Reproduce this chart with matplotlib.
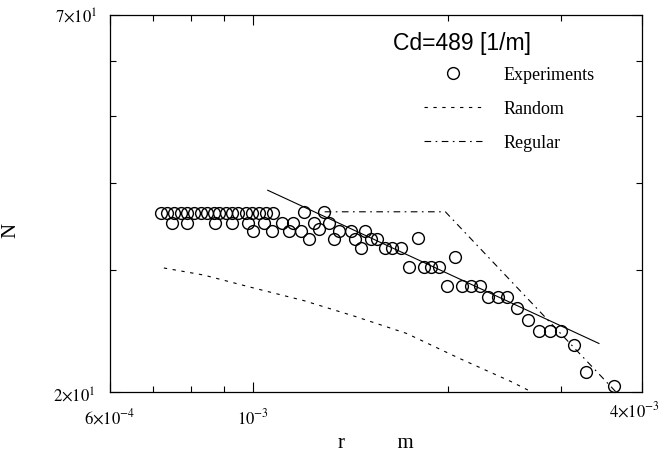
import matplotlib
matplotlib.use('Agg')
from matplotlib import pyplot as plt
from matplotlib.lines import Line2D
from matplotlib.ticker import FixedLocator, NullFormatter, FixedFormatter
from matplotlib.transforms import ScaledTranslation
import numpy as np

plt.rcParams['font.family'] = ['Liberation Serif', 'DejaVu Serif']
plt.rcParams['mathtext.fontset'] = 'stix'

# experiments: radius r [1e-3 m] and coordination number N
exp_r = [0.719, 0.735, 0.753, 0.773, 0.789, 0.809, 0.829, 0.847, 0.869, 0.884,
         0.907, 0.926, 0.946, 0.974, 0.995, 1.020, 1.045, 1.072, 1.197, 1.285,
         0.748, 0.789, 0.872, 0.926, 0.981, 1.038, 1.107, 1.151, 1.240, 1.308,
         0.998, 1.068, 1.134, 1.184, 1.262, 1.360, 1.415, 1.487,
         1.218, 1.332, 1.435, 1.524, 1.557, 1.802,
         1.466, 1.597, 1.643, 1.696,
         2.056, 1.745, 1.841, 1.887, 1.942,
         1.998, 2.107, 2.176, 2.247,
         2.312, 2.396, 2.474, 2.563, 2.666,
         2.772, 2.883, 2.998, 3.140, 3.277, 3.620]
exp_n = [36.2] * 18 + [36.4, 36.4] + [35.1] * 10 + \
        [34.1, 34.1, 34.1, 34.1, 34.4, 34.1, 34.1, 34.1] + \
        [33.2, 33.2, 33.2, 33.3, 33.3, 33.4] + \
        [32.3] * 4 + [31.3] + [30.3] * 4 + [28.4] * 4 + \
        [27.4] * 3 + [26.4, 25.4] + [24.5] * 3 + [23.4, 21.4, 20.4]

# fitted power law (solid)
fit_r = [1.053, 3.431]
fit_n = [39.1, 23.5]

# Random model (dashed)
rand_r = [0.727, 0.838, 0.995, 1.197, 1.440, 1.727, 2.078, 2.509, 2.70]
rand_n = [30.2, 29.5, 28.3, 27.1, 25.7, 24.3, 22.4, 20.7, 20.0]

# Regular model (dash-dot)
reg_r = [1.290, 1.984, 3.646]
reg_n = [36.4, 36.4, 20.0]

fig = plt.figure(figsize=(6.65, 4.6), dpi=100)
ax = fig.add_axes([110 / 665, 1 - 393 / 460, 532 / 665, 377 / 460])

ax.plot(np.array(exp_r) * 1e-3, exp_n, 'o', mfc='none', mec='black',
        ms=8.5, mew=1.0, clip_on=False, zorder=3)
ax.plot(np.array(fit_r) * 1e-3, fit_n, '-', color='black', lw=0.8)
ax.plot(np.array(rand_r) * 1e-3, rand_n, color='black', lw=0.8,
        ls=(0, (3, 5)))
ax.plot(np.array(reg_r) * 1e-3, reg_n, color='black', lw=0.8,
        ls=(0, (6, 4, 1.5, 4)))

ax.set_xscale('log')
ax.set_yscale('log')
ax.set_xlim(6e-4, 4e-3)
ax.set_ylim(20, 70)

ax.xaxis.set_major_locator(FixedLocator([6e-4, 1e-3, 4e-3]))
ax.xaxis.set_major_formatter(FixedFormatter(
    [r'$6{\times}10^{-4}$', r'$10^{-3}$', r'$4{\times}10^{-3}$']))
ax.xaxis.set_minor_locator(FixedLocator([7e-4, 8e-4, 9e-4, 2e-3, 3e-3]))
ax.xaxis.set_minor_formatter(NullFormatter())
ax.yaxis.set_major_locator(FixedLocator([20, 70]))
ax.yaxis.set_major_formatter(FixedFormatter(
    [r'$2{\times}10^{1}$', r'$7{\times}10^{1}$']))
ax.yaxis.set_minor_locator(FixedLocator([30, 40, 50, 60]))
ax.yaxis.set_minor_formatter(NullFormatter())

ax.tick_params(which='both', direction='in', top=True, right=True,
               labelsize=12, width=0.8)
ax.tick_params(which='major', length=7)
ax.tick_params(axis='x', which='major', pad=11)
ax.tick_params(axis='y', which='major', pad=9)
ax.tick_params(which='minor', length=4)
for s in ax.spines.values():
    s.set_linewidth(0.9)

# nudge the corner tick labels like in the scan
xt = ax.xaxis.get_major_ticks()[2].label1
xt.set_transform(xt.get_transform() + ScaledTranslation(-0.08, 0.07, fig.dpi_scale_trans))
yt = ax.yaxis.get_major_ticks()[0].label1
yt.set_transform(yt.get_transform() + ScaledTranslation(-0.02, -0.02, fig.dpi_scale_trans))

ax.set_ylabel('N', fontsize=15)
ax.yaxis.set_label_coords(-0.168, 0.43)
ax.set_xlabel('r          m', fontsize=15, labelpad=4)

ax.text(0.532, 0.926, 'Cd=489 [1/m]', transform=ax.transAxes,
        fontsize=16.5, family='Liberation Sans', va='center', ha='left')

handles = [
    Line2D([], [], marker='o', ls='none', mfc='none', mec='black', ms=8.5, mew=1.0),
    Line2D([], [], color='black', lw=0.8, ls=(0, (3, 5))),
    Line2D([], [], color='black', lw=0.8, ls=(0, (6, 4, 1.5, 4))),
]
ax.legend(handles, ['Experiments', 'Random', 'Regular'], loc='upper left',
          bbox_to_anchor=(0.59, 0.865), frameon=False, fontsize=13,
          handlelength=3.2, handletextpad=1.2, labelspacing=0.95,
          borderpad=0, borderaxespad=0)

fig.savefig('out.png', dpi=100)
